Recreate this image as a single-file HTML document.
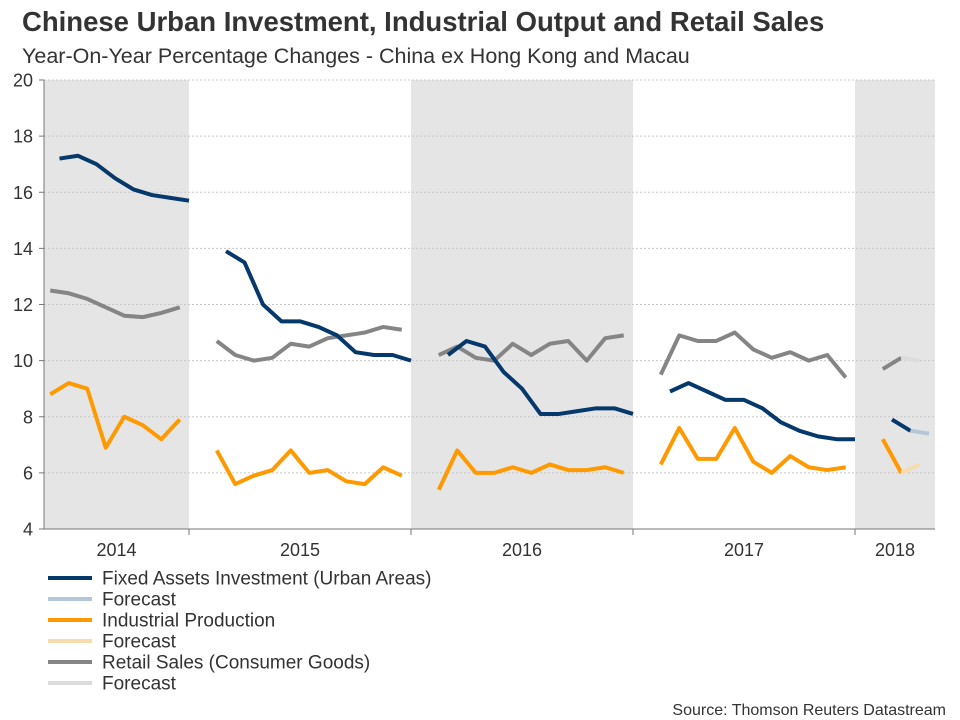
<!DOCTYPE html>
<html><head><meta charset="utf-8"><style>
body{margin:0;background:#fff;font-family:"Liberation Sans",Arial,sans-serif;}
svg{display:block}
</style></head><body>
<svg id="chart" width="960" height="720" font-family="Liberation Sans, Arial, sans-serif">
<text x="22" y="31" font-size="27.5" font-weight="bold" fill="#333">Chinese Urban Investment, Industrial Output and Retail Sales</text>
<text x="22" y="63" font-size="21.5" fill="#333">Year-On-Year Percentage Changes - China ex Hong Kong and Macau</text>
<g id="bands"></g><g id="grid"></g><g id="axes"></g><g id="series"></g><g id="legend"></g>
<text x="946" y="715" font-size="16" fill="#333" text-anchor="end">Source: Thomson Reuters Datastream</text>
</svg>
<script>
const years = [2014, 2015, 2016, 2017, 2018];
const yTicks = [4, 6, 8, 10, 12, 14, 16, 18, 20];
const startMonths = [5, 2, 2, 2, 2];
const faiValues = [
 [17.2,17.3,17.0,16.5,16.1,15.9,15.8,15.7],
 [13.9,13.5,12.0,11.4,11.4,11.2,10.9,10.3,10.2,10.2,10.0],
 [10.2,10.7,10.5,9.6,9.0,8.1,8.1,8.2,8.3,8.3,8.1],
 [8.9,9.2,8.9,8.6,8.6,8.3,7.8,7.5,7.3,7.2,7.2],
 [7.9,7.5]];
const faiForecast = [7.5, 7.4];
const ipValues = [
 [8.8,9.2,9.0,6.9,8.0,7.7,7.2,7.9],
 [6.8,5.6,5.9,6.1,6.8,6.0,6.1,5.7,5.6,6.2,5.9],
 [5.4,6.8,6.0,6.0,6.2,6.0,6.3,6.1,6.1,6.2,6.0],
 [6.3,7.6,6.5,6.5,7.6,6.4,6.0,6.6,6.2,6.1,6.2],
 [7.2,6.0]];
const ipForecast = [6.0, 6.3];
const rsValues = [
 [12.5,12.4,12.2,11.9,11.6,11.55,11.7,11.9],
 [10.7,10.2,10.0,10.1,10.6,10.5,10.8,10.9,11.0,11.2,11.1],
 [10.2,10.5,10.1,10.0,10.6,10.2,10.6,10.7,10.0,10.8,10.9],
 [9.5,10.9,10.7,10.7,11.0,10.4,10.1,10.3,10.0,10.2,9.4],
 [9.7,10.1]];
const rsForecast = [10.1, 10.0];

const NS="http://www.w3.org/2000/svg";
const X0=44,X1=935,Y0=529,Y1=80,YEAR0=189-222,YW=222;
const yScale=v=>Y0-(v-4)/(20-4)*(Y0-Y1);
const xScale=(yi,m,off)=>Math.min(X1,Math.max(X0,YEAR0+yi*YW+(m-off)*YW/12));
function mk(tag,attrs,parent){const e=document.createElementNS(NS,tag);for(const k in attrs)e.setAttribute(k,attrs[k]);parent.appendChild(e);return e;}
const bands=document.getElementById('bands'),grid=document.getElementById('grid'),axes=document.getElementById('axes'),ser=document.getElementById('series'),leg=document.getElementById('legend');
years.forEach((yr,i)=>{
 const a=Math.max(X0,YEAR0+i*YW),b=Math.min(X1,YEAR0+(i+1)*YW);
 if(i%2===0){const r=mk('rect',{x:a,y:Y1,width:b-a,height:Y0-Y1,fill:'#e5e5e5'},bands);
 
 }
 const t=mk('text',{x:(a+b)/2,y:556,'font-size':18,fill:'#333','text-anchor':'middle'},axes);t.textContent=yr;
 
 
 if(i>0){const tk=mk('line',{x1:a,x2:a,y1:Y0,y2:Y0+6,stroke:'#777','stroke-width':1},axes);
 
 }
});
yTicks.forEach(v=>{
 const y=yScale(v);
 if(v>4){const g=mk('line',{x1:X0,x2:X1,y1:y,y2:y,stroke:'#c8c8c8','stroke-dasharray':'2,2','stroke-width':1},grid);
 
 }
 const tk=mk('line',{x1:X0-5,x2:X0,y1:y,y2:y,stroke:'#777'},axes);
 
 
 const t=mk('text',{x:33,y:y+6.5,'font-size':18,fill:'#333','text-anchor':'end'},axes);t.textContent=v;
 
 
});
const ya=mk('line',{x1:X0,x2:X0,y1:Y1,y2:Y0,stroke:'#777'},axes);


const xa=mk('line',{x1:X0,x2:X1,y1:Y0,y2:Y0,stroke:'#777'},axes);


function draw(vals,fc,off,color,fcolor,name){
 vals.forEach((arr,yi)=>{
  const pts=arr.map((v,k)=>xScale(yi,startMonths[yi]+k,off)+','+yScale(v)).join(' ');
  const p=mk('polyline',{points:pts,fill:'none',stroke:color,'stroke-width':4,'stroke-linejoin':'round'},ser);
  
  
 });
 const yi=vals.length-1,m0=startMonths[yi]+vals[yi].length-1;
 const pts=fc.map((v,k)=>xScale(yi,m0+k,off)+','+yScale(v)).join(' ');
 const p=mk('polyline',{points:pts,fill:'none',stroke:fcolor,'stroke-width':4},ser);
 
 
}
draw(rsValues,rsForecast,0.5,'#858585','#dcdcdc','retail-sales');
draw(ipValues,ipForecast,0.5,'#ff9900','#f7dcb0','industrial-production');
draw(faiValues,faiForecast,0,'#05386b','#b5c6d8','fixed-assets-investment');
const legendItems=[['Fixed Assets Investment (Urban Areas)','#05386b'],['Forecast','#b5c6d8'],['Industrial Production','#ff9900'],['Forecast','#f7dcb0'],['Retail Sales (Consumer Goods)','#858585'],['Forecast','#dcdcdc']];
legendItems.forEach((it,i)=>{
 const y=578+i*21;
 const g=mk('g',{},leg);
 
 
 mk('line',{x1:48,x2:92,y1:y,y2:y,stroke:it[1],'stroke-width':4},g);
 const t=mk('text',{x:102,y:y+6.5,'font-size':19,fill:'#333'},g);t.textContent=it[0];
});
</script>
</body></html>
